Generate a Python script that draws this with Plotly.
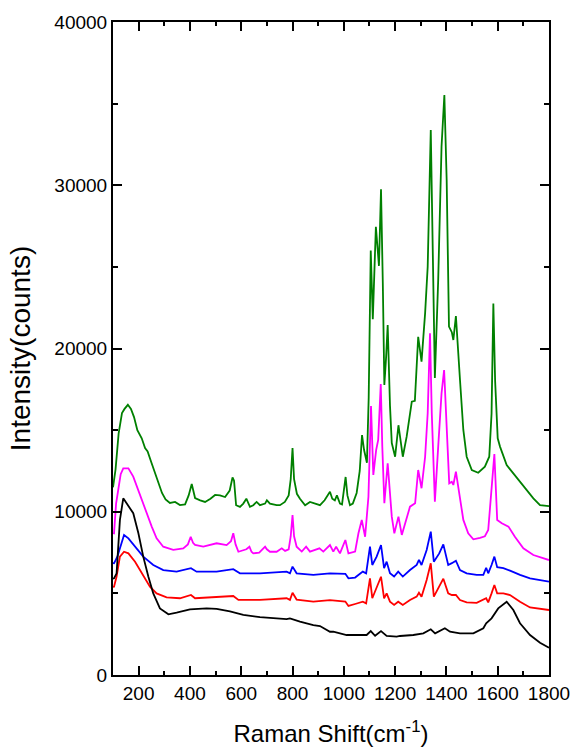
import plotly.graph_objects as go

# Raman spectra, five samples (Raman shift in cm^-1, intensity in counts)
green_x = [100, 110, 122, 135, 145, 158, 170, 182, 195, 212, 225, 235, 250, 264, 280, 291, 305, 322, 342, 361,
           381, 395, 407, 420, 440, 459, 480, 498, 517, 537, 555, 566, 572, 580, 595, 608, 620, 634, 647, 660,
           673, 693, 700, 712, 738, 751, 770, 785, 793, 800, 806, 817, 829, 849, 868, 888, 907, 925, 946, 955,
           965, 973, 985, 993, 1000, 1007, 1014, 1024, 1035, 1050, 1062, 1071, 1079, 1090, 1097, 1105, 1113,
           1125, 1137, 1145, 1152, 1158, 1165, 1171, 1180, 1187, 1200, 1213, 1230, 1245, 1265, 1277, 1290,
           1303, 1317, 1327, 1339, 1347, 1355, 1368, 1381, 1392, 1401, 1410, 1421, 1427, 1437, 1453, 1466,
           1479, 1499, 1524, 1550, 1567, 1576, 1583, 1590, 1600, 1609, 1635, 1661, 1700, 1739, 1765, 1800]
green_y = [11500, 12600, 14800, 16050, 16300, 16550, 16300, 15800, 15000, 14500, 13900, 13700, 13000, 12370,
           11600, 11150, 10750, 10540, 10600, 10410, 10450, 11000, 11700, 10840, 10700, 10600, 10800, 11030,
           11000, 10900, 11300, 12100, 11900, 10400, 10300, 10500, 10800, 10300, 10400, 10600, 10400, 10500,
           10700, 10500, 10400, 10400, 10600, 11000, 12000, 13900, 12000, 11100, 10800, 10400, 10600, 10500,
           10400, 10700, 11230, 10800, 10700, 11000, 10500, 10450, 11200, 12130, 11000, 10400, 10500, 11150,
           12500, 14700, 13780, 13000, 17000, 26000, 21800, 27460, 25060, 29750, 24000, 17770, 19500, 21440,
           16500, 14210, 13370, 15300, 13370, 14600, 16740, 16800, 20720, 19200, 22170, 25010, 33390, 25000,
           18200, 24200, 32370, 35530, 30320, 21340, 21000, 20520, 21990, 18070, 15010, 13370, 12560, 12390,
           12760, 13370, 16000, 22750, 18000, 14500, 13990, 12860, 12350, 11540, 10820, 10410, 10350]

magenta_x = [100, 104, 112, 121, 130, 140, 160, 179, 205, 231, 251, 270, 296, 335, 374, 392, 403, 412, 420, 452,
             504, 543, 560, 569, 578, 589, 608, 620, 632, 640, 647, 670, 693, 700, 712, 738, 758, 771, 785, 793,
             800, 806, 816, 836, 853, 868, 905, 920, 946, 959, 970, 985, 1006, 1018, 1044, 1057, 1070, 1083,
             1096, 1106, 1115, 1126, 1134, 1144, 1150, 1158, 1171, 1187, 1197, 1213, 1226, 1243, 1258, 1278,
             1290, 1303, 1317, 1327, 1336, 1343, 1355, 1368, 1381, 1391, 1401, 1411, 1421, 1427, 1437, 1453,
             1466, 1485, 1505, 1531, 1550, 1563, 1576, 1587, 1598, 1616, 1642, 1667, 1700, 1739, 1800]
magenta_y = [8700, 8680, 10500, 11540, 12300, 12660, 12660, 12150, 11030, 9910, 9090, 8370, 7860, 7660, 7760,
             8000, 8470, 8100, 7970, 7860, 8070, 7960, 8200, 8680, 8000, 7550, 7650, 7700, 7860, 7550, 7450,
             7500, 7860, 7700, 7550, 7550, 7760, 7600, 7700, 8500, 9800, 8500, 7860, 7560, 7860, 7560, 7760,
             7560, 7960, 7560, 7860, 7450, 8270, 7450, 7560, 8680, 9500, 8470, 10920, 16480, 12250, 13780,
             14400, 17830, 14000, 10520, 12970, 9700, 8680, 9700, 8580, 9500, 10310, 10520, 12560, 11440,
             13370, 16030, 20930, 16000, 10620, 13990, 17260, 18680, 15010, 11740, 11840, 11640, 12460, 10920,
             9500, 8680, 8310, 8400, 8500, 8880, 11330, 13540, 9500, 9290, 9090, 8470, 7760, 7350, 7040]

blue_x = [100, 104, 117, 134, 143, 160, 186, 218, 257, 296, 348, 404, 426, 504, 569, 595, 673, 777, 790, 800,
          816, 881, 946, 1006, 1018, 1044, 1074, 1087, 1102, 1111, 1128, 1145, 1157, 1167, 1180, 1196, 1212,
          1230, 1258, 1284, 1293, 1303, 1323, 1339, 1351, 1372, 1388, 1407, 1421, 1437, 1453, 1479, 1518,
          1544, 1555, 1563, 1576, 1587, 1598, 1622, 1648, 1687, 1726, 1800]
blue_y = [6850, 6840, 7250, 8170, 8580, 8370, 7860, 7250, 6740, 6430, 6330, 6540, 6330, 6330, 6480, 6230,
          6230, 6330, 6230, 6640, 6230, 6130, 6230, 6200, 5920, 5970, 6330, 6230, 7860, 6740, 7250, 7960,
          6540, 6940, 6230, 6030, 6330, 6030, 6430, 6740, 7050, 6740, 7660, 8780, 6940, 7450, 8000, 6740,
          6850, 7000, 6430, 6230, 6130, 6130, 6570, 6230, 6740, 7250, 6600, 6540, 6390, 6130, 5920, 5720]

red_x = [100, 104, 114, 127, 143, 160, 186, 218, 244, 270, 309, 361, 404, 420, 504, 569, 589, 673, 777, 790,
         800, 816, 881, 946, 1006, 1018, 1044, 1074, 1087, 1102, 1111, 1128, 1145, 1157, 1167, 1180, 1196,
         1212, 1230, 1258, 1284, 1293, 1303, 1323, 1339, 1351, 1372, 1388, 1407, 1421, 1437, 1453, 1479,
         1518, 1555, 1563, 1576, 1587, 1598, 1622, 1648, 1687, 1726, 1800]
red_y = [5400, 5410, 6030, 7250, 7550, 7450, 6940, 6130, 5410, 5000, 4760, 4700, 4900, 4700, 4800, 4840,
         4600, 4600, 4700, 4600, 5040, 4620, 4490, 4590, 4500, 4230, 4350, 4490, 4390, 5920, 4700, 5310,
         6020, 4700, 5000, 4490, 4290, 4490, 4290, 4590, 4800, 5040, 4800, 5820, 6840, 4800, 5410, 5900,
         5000, 4900, 4900, 4590, 4450, 4420, 4700, 4450, 5000, 5510, 5000, 5000, 4900, 4490, 4140, 3980]

black_x = [100, 104, 114, 127, 140, 160, 179, 199, 218, 238, 257, 283, 316, 348, 400, 465, 504, 556, 608, 673,
           738, 777, 790, 829, 881, 907, 946, 959, 1011, 1089, 1105, 1122, 1145, 1167, 1206, 1219, 1271, 1310,
           1339, 1356, 1394, 1414, 1453, 1505, 1544, 1555, 1576, 1602, 1635, 1661, 1687, 1726, 1765, 1800]
black_y = [5900, 5920, 6230, 9500, 10820, 10310, 9910, 8680, 7250, 6020, 5000, 4080, 3720, 3820, 4020, 4080,
           4050, 3900, 3680, 3540, 3470, 3420, 3470, 3270, 3060, 3000, 2650, 2650, 2450, 2450, 2690, 2400,
           2690, 2400, 2350, 2390, 2450, 2550, 2800, 2550, 2860, 2650, 2550, 2550, 2860, 3170, 3470, 4080,
           4490, 3980, 3170, 2450, 1980, 1670]

x_tick_vals = [200, 400, 600, 800, 1000, 1200, 1400, 1600, 1800]
y_tick_vals = [0, 10000, 20000, 30000, 40000]

series = [
    (green_x, green_y, "#008000"),
    (magenta_x, magenta_y, "#ff00ff"),
    (blue_x, blue_y, "#0000ff"),
    (red_x, red_y, "#ff0000"),
    (black_x, black_y, "#000000"),
]

fig = go.Figure()
for xs, ys, color in series:
    fig.add_trace(go.Scatter(x=xs, y=ys, mode="lines",
                             line=dict(color=color, width=1.8), showlegend=False))

font_family = "Liberation Sans, Arial, sans-serif"
axis_common = dict(
    showline=True, linecolor="black", linewidth=2, mirror="allticks",
    ticks="inside", tickcolor="black", tickwidth=1.5, ticklen=9,
    showgrid=False, zeroline=False, automargin=False,
    tickfont=dict(family=font_family, size=19, color="black"),
)

fig.update_xaxes(
    range=[100, 1800], tickmode="array", tickvals=x_tick_vals,
    ticktext=[str(v) for v in x_tick_vals],
    minor=dict(ticks="inside", dtick=100, tick0=0, ticklen=4, tickwidth=1.5, tickcolor="black"),
    title=dict(text="Raman Shift(cm<sup>-1</sup>)", font=dict(family=font_family, size=24, color="black"),
               standoff=22),
    **axis_common,
)
fig.update_yaxes(
    range=[0, 40000], tickmode="array", tickvals=y_tick_vals,
    ticktext=[str(v) for v in y_tick_vals],
    minor=dict(ticks="inside", dtick=5000, tick0=0, ticklen=5, tickwidth=1.5, tickcolor="black"),
    title=dict(text="Intensity(counts)", font=dict(family=font_family, size=28, color="black"),
               standoff=16),
    **axis_common,
)

fig.update_layout(
    template="none",
    width=574, height=749,
    margin=dict(l=113, r=25, t=22, b=74),
    paper_bgcolor="white", plot_bgcolor="white",
)

fig.write_html("out.html")
